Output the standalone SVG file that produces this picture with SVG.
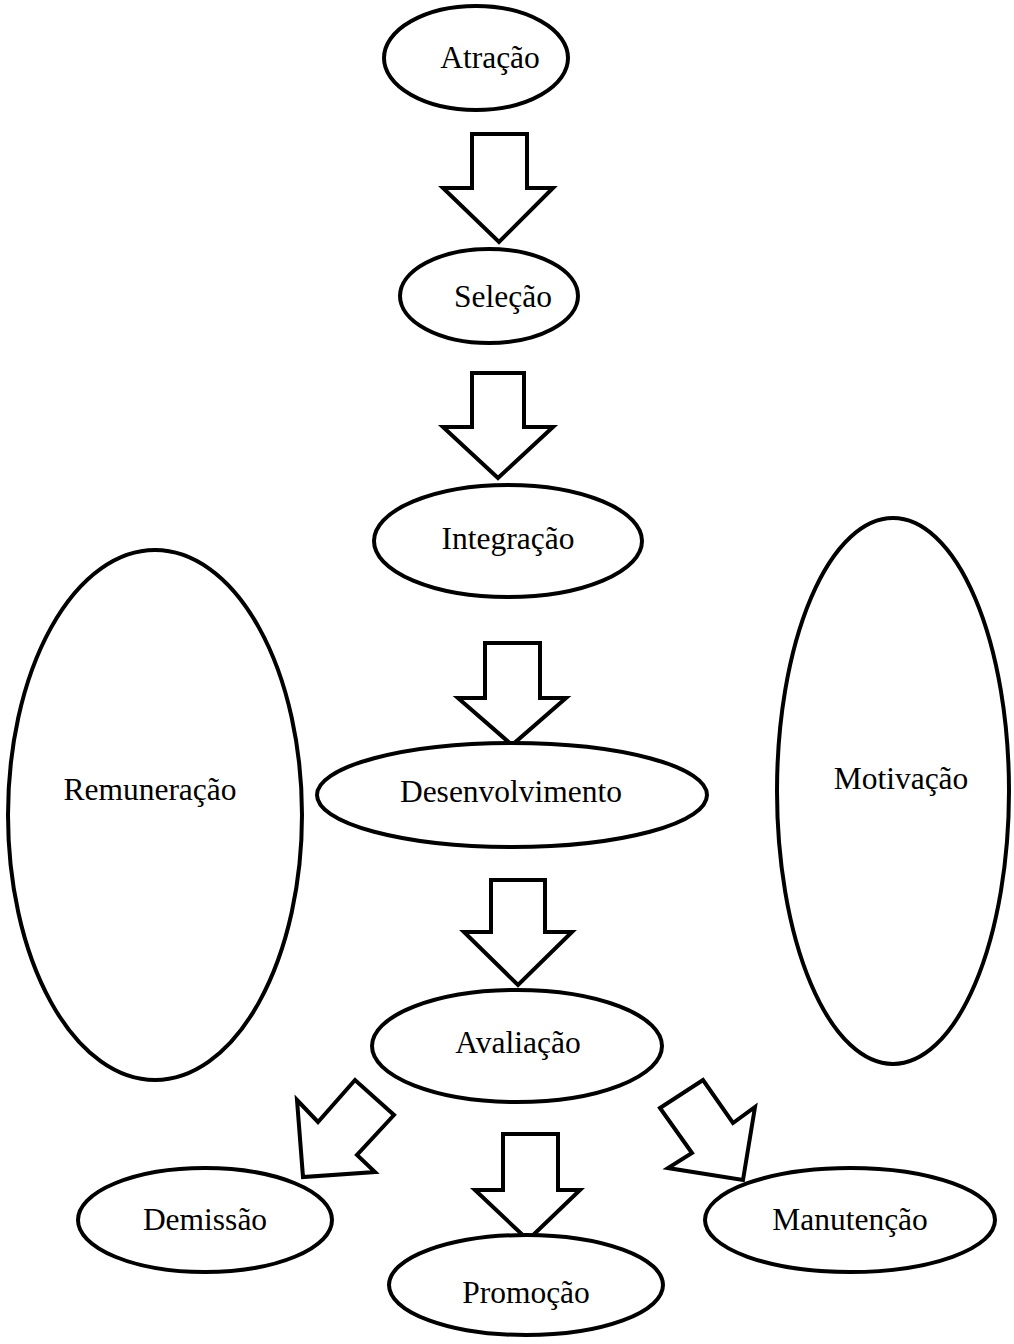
<svg xmlns="http://www.w3.org/2000/svg" width="1014" height="1344" viewBox="0 0 1014 1344">
<style>
.n{fill:#fff;stroke:#000;stroke-width:4}
.a{fill:#fff;stroke:#000;stroke-width:4;stroke-linejoin:miter}
text{font-family:"Liberation Serif","Times New Roman",serif;font-size:31.5px;fill:#000;text-anchor:middle}
</style>
<rect width="1014" height="1344" fill="#fff"/>
<g id="remuneracao"><ellipse class="n" cx="155" cy="815" rx="147" ry="265"/><text x="150" y="800">Remuneração</text></g>
<g id="motivacao"><ellipse class="n" cx="893" cy="791" rx="116" ry="273"/><text x="901" y="789">Motivação</text></g>
<g id="connectors">
<polygon class="a" points="472,134 527,134 527,188 553,188 499,242 443,188 472,188"/>
<polygon class="a" points="472,373 524,373 524,427 553,427 498,478 443,427 472,427"/>
<polygon class="a" points="485,643 540,643 540,698 566,698 512,745 458,698 485,698"/>
<polygon class="a" points="491,880 545,880 545,932 572,932 518,985 464,932 491,932"/>
<polygon class="a" points="503,1134 558,1134 558,1190 580,1190 528,1240 475,1190 503,1190"/>
<polygon class="a" points="297,1100 318,1122 355,1080 394,1115 357,1155 375,1172 303,1177"/>
<polygon class="a" points="660,1108 703,1080 733,1123 755,1107 743,1180 668,1168 692,1153"/>
</g>
<g id="atracao"><ellipse class="n" cx="476" cy="58" rx="92" ry="52"/><text x="490" y="68">Atração</text></g>
<g id="selecao"><ellipse class="n" cx="489" cy="296" rx="89" ry="47"/><text x="503" y="307">Seleção</text></g>
<g id="integracao"><ellipse class="n" cx="508" cy="541" rx="134" ry="56"/><text x="508" y="549">Integração</text></g>
<g id="desenvolvimento"><ellipse class="n" cx="512" cy="795" rx="195" ry="52"/><text x="511" y="802">Desenvolvimento</text></g>
<g id="avaliacao"><ellipse class="n" cx="517" cy="1046" rx="145" ry="56"/><text x="518" y="1053">Avaliação</text></g>
<g id="demissao"><ellipse class="n" cx="205" cy="1220" rx="127" ry="52"/><text x="205" y="1230">Demissão</text></g>
<g id="promocao"><ellipse class="n" cx="526" cy="1285" rx="137" ry="50"/><text x="526" y="1303">Promoção</text></g>
<g id="manutencao"><ellipse class="n" cx="850" cy="1220" rx="145" ry="52"/><text x="850" y="1230">Manutenção</text></g>
</svg>
